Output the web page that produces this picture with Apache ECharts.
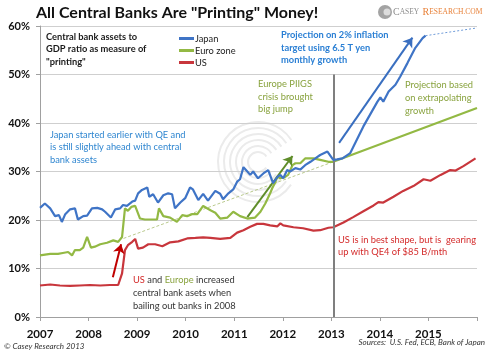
<!DOCTYPE html>
<html>
<head>
<meta charset="utf-8">
<script src="https://cdn.jsdelivr.net/npm/echarts@6/dist/echarts.min.js"></script>
<style>
  html, body { margin: 0; padding: 0; background: #fff; }
  #chart { width: 490px; height: 353px; }
</style>
</head>
<body>
<div id="chart"></div>
<script>
// values: [year, % of GDP]
const japan = [
  [2007.00,22.5],[2007.10,23.4],[2007.21,22.4],[2007.31,20.8],[2007.39,21.0],[2007.45,19.6],
  [2007.52,21.2],[2007.62,22.2],[2007.72,22.4],[2007.78,20.1],[2007.89,20.8],[2007.97,20.9],
  [2008.07,22.4],[2008.18,22.5],[2008.28,22.2],[2008.34,21.7],[2008.38,21.9],[2008.46,20.5],
  [2008.55,22.2],[2008.65,22.4],[2008.71,23.1],[2008.79,22.9],[2008.90,23.8],[2008.96,24.0],
  [2009.02,25.5],[2009.10,26.2],[2009.21,26.7],[2009.25,24.8],[2009.33,25.3],[2009.43,23.6],
  [2009.54,25.1],[2009.64,25.5],[2009.72,25.3],[2009.78,22.4],[2009.89,23.6],[2009.99,24.5],
  [2010.09,26.7],[2010.15,26.3],[2010.26,24.1],[2010.36,25.4],[2010.46,24.0],[2010.61,26.0],
  [2010.71,25.4],[2010.77,24.3],[2010.88,25.5],[2010.98,26.3],[2011.06,27.9],[2011.12,28.4],
  [2011.19,30.9],[2011.27,30.0],[2011.33,29.3],[2011.39,30.0],[2011.49,28.6],[2011.60,29.6],
  [2011.70,30.3],[2011.80,27.6],[2011.89,28.9],[2011.95,29.3],[2012.01,28.6],[2012.09,30.3],
  [2012.15,30.0],[2012.26,30.7],[2012.36,30.4],[2012.46,31.3],[2012.57,32.0],[2012.67,32.7],
  [2012.77,33.4],[2012.92,34.1],[2013.04,32.4],[2013.12,32.5],[2013.23,32.7],[2013.39,33.8],
  [2013.66,39.3],[2013.95,44.4],[2014.01,45.3],[2014.07,44.4],[2014.18,46.5],[2014.32,47.9],
  [2014.42,49.6],[2014.57,52.4],[2014.73,55.5],[2014.88,57.5],[2014.94,58.0]
];
const japanDotted = [[2014.94,58.0],[2016.0,59.6]];

const euro = [
  [2007.00,12.7],[2007.21,13.0],[2007.37,13.0],[2007.47,13.2],[2007.58,13.4],[2007.66,12.7],
  [2007.72,13.8],[2007.82,13.8],[2007.89,14.3],[2007.97,16.5],[2008.05,14.3],[2008.13,14.5],
  [2008.24,15.0],[2008.38,15.3],[2008.51,15.8],[2008.61,15.5],[2008.69,16.5],[2008.75,22.4],
  [2008.81,21.9],[2008.88,22.7],[2008.96,22.9],[2009.06,20.3],[2009.16,20.1],[2009.31,20.1],
  [2009.41,20.1],[2009.45,22.4],[2009.54,20.8],[2009.68,20.5],[2009.82,19.6],[2009.93,21.0],
  [2010.03,20.8],[2010.13,21.2],[2010.24,21.2],[2010.36,22.9],[2010.51,22.0],[2010.61,21.5],
  [2010.71,20.3],[2010.86,20.5],[2010.98,21.7],[2011.12,20.8],[2011.27,20.3],[2011.43,20.5],
  [2011.54,21.7],[2011.64,23.4],[2011.74,25.5],[2011.78,26.5],[2011.85,27.9],[2011.89,28.9],
  [2011.95,28.6],[2012.05,28.9],[2012.11,29.3],[2012.20,31.3],[2012.26,31.7],[2012.36,31.7],
  [2012.46,32.7],[2012.63,32.7],[2012.77,32.4],[2012.94,32.0],[2013.04,32.0]
];
const euroProjection = [[2013.04,32.0],[2016.0,43.1]];
const euroTrend = [[2008.72,16.2],[2013.04,32.0]];

const us = [
  [2007.00,6.5],[2007.21,6.7],[2007.41,6.5],[2007.62,6.4],[2007.82,6.5],[2008.03,6.6],
  [2008.24,6.5],[2008.44,6.6],[2008.61,6.6],[2008.69,9.0],[2008.75,13.8],[2008.81,14.8],
  [2008.90,15.5],[2008.96,16.1],[2009.02,14.1],[2009.12,14.3],[2009.23,15.0],[2009.37,15.0],
  [2009.52,14.6],[2009.68,15.4],[2009.85,15.6],[2010.03,16.2],[2010.20,16.3],[2010.36,16.4],
  [2010.51,16.3],[2010.71,16.1],[2010.92,16.3],[2011.06,17.4],[2011.19,17.9],[2011.33,18.6],
  [2011.47,19.2],[2011.60,19.2],[2011.74,18.9],[2011.89,18.7],[2011.95,19.3],[2012.01,18.9],
  [2012.22,18.5],[2012.42,18.3],[2012.63,17.8],[2012.77,17.9],[2012.94,18.4],[2013.04,18.5],
  [2013.25,19.5],[2013.45,20.6],[2013.66,21.8],[2013.87,23.0],[2013.97,23.7],[2014.07,23.6],
  [2014.28,24.8],[2014.48,26.0],[2014.69,27.0],[2014.90,28.4],[2015.04,28.1],[2015.25,29.3],
  [2015.45,30.3],[2015.56,30.2],[2015.72,31.1],[2015.97,32.7]
];

// arrows: [from, to]
const redArrow = [[2008.50, 8.2], [2008.67, 15.0]];
const greenArrow = [[2011.27, 20.6], [2012.20, 33.2]];
const blueArrow = [[2013.16, 35.9], [2014.67, 57.6]];
const divider = [[2013.04, 0], [2013.04, 50]];

const seriesNames = ['Japan', 'Euro zone', 'US'];

const FONT = 'Lato';
const BLUE = '#3f74c6', GREEN = '#93b944', RED = '#c8363c';
const NOTE = '9.3px ' + FONT, NOTE_B = 'bold 9.3px ' + FONT;

let chart = echarts.init(document.getElementById('chart'));

function arrowItem (pts, color) {
    return [
        { coord: pts[0], lineStyle: { color: color, width: 2, type: 'solid' } },
        { coord: pts[1] }
    ];
}

function ring (r) {
    return { type: 'arc', z: 0, shape: { cx: 258, cy: 162, r: r, startAngle: 0.6, endAngle: 5.7 },
             style: { stroke: '#ebebeb', fill: null, lineWidth: 2 } };
}

chart.setOption({
    animation: false,
    textStyle: { fontFamily: FONT },
    grid: { left: 40, right: 13, top: 26, bottom: 36 },
    legend: {
        orient: 'vertical',
        left: 174,
        top: 28,
        itemGap: 1,
        itemWidth: 15,
        itemHeight: 3,
        icon: 'rect',
        data: seriesNames,
        textStyle: { fontFamily: FONT, fontSize: 9.3, lineHeight: 11, color: '#222', padding: [0, 0, 0, -4] }
    },
    xAxis: {
        type: 'value',
        min: 2007,
        max: 2016,
        interval: 1,
        axisLine: { lineStyle: { color: '#a0a0a0' } },
        axisTick: { show: true, length: 4, lineStyle: { color: '#a0a0a0' } },
        splitLine: { show: false },
        axisLabel: {
            margin: 11,
            fontFamily: FONT,
            fontWeight: 'bold',
            fontSize: 11.5,
            color: '#111',
            formatter: v => v === 2016 ? '' : String(v)
        }
    },
    yAxis: {
        type: 'value',
        min: 0,
        max: 60,
        interval: 10,
        axisLine: { show: true, lineStyle: { color: '#a0a0a0' } },
        axisTick: { show: true, length: 4, lineStyle: { color: '#a0a0a0' } },
        splitLine: { lineStyle: { color: '#cfcfcf' } },
        axisLabel: {
            margin: 10,
            fontFamily: FONT,
            fontWeight: 'bold',
            fontSize: 11,
            color: '#111',
            formatter: '{value}%'
        }
    },
    graphic: [
        ring(10), ring(16), ring(22), ring(28), ring(34), ring(40),
        // title
        { type: 'text', left: 36, top: 5, style: { text: 'All Central Banks Are "Printing" Money!', font: 'bold 16px ' + FONT, fill: '#111' } },
        // logo
        { type: 'circle', shape: { cx: 385, cy: 12, r: 7 }, style: { fill: '#a3a3a3' } },
        { type: 'circle', shape: { cx: 387, cy: 12, r: 3.5 }, style: { fill: '#dcdcdc' } },
        { type: 'text', left: 393, top: 6, style: {
            text: '{g|C}{gs|ASEY} {o|R}{os|ESEARCH.COM}',
            rich: {
                g: { font: '10px "Liberation Serif"', fill: '#8c8c8c' },
                gs: { font: '7.5px "Liberation Serif"', fill: '#8c8c8c' },
                o: { font: '10px "Liberation Serif"', fill: '#e8823a' },
                os: { font: '7.5px "Liberation Serif"', fill: '#e8823a' }
            }
        } },
        // annotations
        { type: 'text', left: 46, top: 31, style: { text: 'Central bank assets to\nGDP ratio as measure of\n"printing"', font: NOTE_B, lineHeight: 12.2, fill: '#1a1a1a' } },
        { type: 'text', left: 281, top: 29, style: { text: 'Projection on 2% inflation\ntarget using 6.5 T yen\nmonthly growth', font: NOTE_B, lineHeight: 12.5, fill: '#2a7fd4' } },
        { type: 'text', left: 258, top: 78, style: { text: 'Europe PIIGS\ncrisis brought\nbig jump', font: NOTE, lineHeight: 12.5, fill: '#89a33f' } },
        { type: 'text', left: 405, top: 79, style: { text: 'Projection based\non extrapolating\ngrowth', font: NOTE, lineHeight: 12.8, fill: '#89a33f' } },
        { type: 'text', left: 50, top: 129, style: { text: 'Japan started earlier with QE and\nis still slightly ahead with central\nbank assets', font: NOTE, lineHeight: 12.2, fill: '#2f86d0' } },
        { type: 'text', left: 133, top: 273.5, style: {
            text: '{r|US} and {g|Europe} increased\ncentral bank asets when\nbailing out banks in 2008',
            font: NOTE, lineHeight: 13, fill: '#333',
            rich: { r: { fill: '#d42a2a', font: NOTE }, g: { fill: '#89a33f', font: NOTE } }
        } },
        { type: 'text', left: 338, top: 234, style: { text: 'US is in best shape, but is  gearing\nup with QE4 of $85 B/mth', font: NOTE, lineHeight: 12, fill: '#d42a2a' } },
        { type: 'text', left: 4, top: 342, style: { text: '\u00a9 Casey Research 2013', font: 'italic 8px ' + FONT, fill: '#333' } },
        { type: 'text', right: 5, top: 338, style: { text: 'Sources:  U.S. Fed, ECB, Bank of Japan', font: 'italic 8px ' + FONT, fill: '#333' } }
    ],
    series: [
        {
            name: 'Japan', type: 'line', data: japan, showSymbol: false, z: 5,
            lineStyle: { color: BLUE, width: 2.2 }, itemStyle: { color: BLUE }
        },
        {
            name: 'Japan projection', type: 'line', data: japanDotted, showSymbol: false, z: 4,
            lineStyle: { color: '#6f9bd8', width: 1, type: [2, 2] }
        },
        {
            name: 'Euro zone', type: 'line', data: euro, showSymbol: false, z: 4,
            lineStyle: { color: GREEN, width: 2.2 }, itemStyle: { color: GREEN }
        },
        {
            name: 'Euro projection', type: 'line', data: euroProjection, showSymbol: false, z: 4,
            lineStyle: { color: GREEN, width: 2.2 }
        },
        {
            name: 'Euro trend', type: 'line', data: euroTrend, showSymbol: false, z: 3,
            lineStyle: { color: '#b9c98c', width: 1, type: [3, 2] },
            markLine: {
                silent: true,
                symbol: ['none', 'arrow'],
                symbolSize: 9,
                label: { show: false },
                data: [
                    arrowItem(redArrow, '#c00000'),
                    arrowItem(greenArrow, '#5f8d2a'),
                    arrowItem(blueArrow, '#3a6fc0')
                ]
            }
        },
        {
            name: 'US', type: 'line', data: us, showSymbol: false, z: 4,
            lineStyle: { color: RED, width: 2.2 }, itemStyle: { color: RED },
            markLine: {
                silent: true,
                symbol: 'none',
                label: { show: false },
                lineStyle: { color: '#7f7f7f', width: 2, type: 'solid' },
                data: [[{ coord: divider[0] }, { coord: divider[1] }]]
            }
        }
    ]
});
</script>
</body>
</html>
